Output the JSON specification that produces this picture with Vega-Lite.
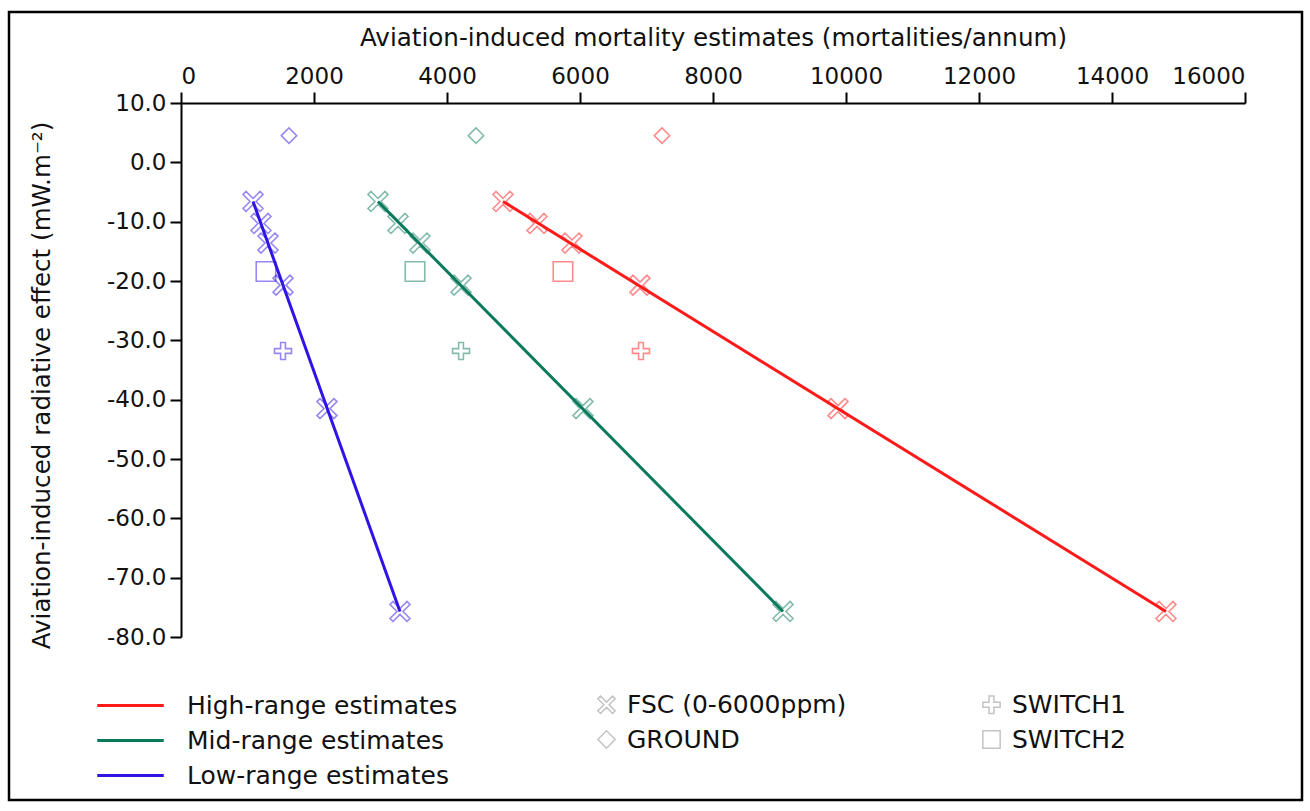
{
  "$schema": "https://vega.github.io/schema/vega-lite/v6.json",
  "autosize": {"type": "none"},
  "padding": {"left": 9, "top": 12, "right": 8, "bottom": 11},
  "width": 1293,
  "height": 788,
  "background": "white",
  "config": {
    "font": "DejaVu Sans",
    "view": {"stroke": "black", "strokeWidth": 2.5, "fill": "white"},
    "axis": {
      "grid": false, "domainColor": "black", "domainWidth": 2, "tickColor": "black", "tickWidth": 2, "tickSize": 11,
      "labelColor": "#111", "labelFontSize": 23, "titleFontSize": 24.6, "titleFontWeight": "normal", "titleColor": "#111"
    },
    "legend": {"labelFontSize": 25, "labelColor": "#111", "padding": 0, "labelLimit": 0}
  },
  "datasets": {
    "lines": [
      {"series": "High-range estimates", "mortality": 4842, "rf": -6.6},
      {"series": "High-range estimates", "mortality": 14812, "rf": -75.7},
      {"series": "Mid-range estimates", "mortality": 2962, "rf": -6.6},
      {"series": "Mid-range estimates", "mortality": 9053, "rf": -75.7},
      {"series": "Low-range estimates", "mortality": 1083, "rf": -6.6},
      {"series": "Low-range estimates", "mortality": 3293, "rf": -75.7}
    ],
    "pts": [
      {"series": "Low-range estimates", "scenario": "FSC (0-6000ppm)", "mortality": 1083, "rf": -6.6},
      {"series": "Low-range estimates", "scenario": "FSC (0-6000ppm)", "mortality": 1203, "rf": -10.3},
      {"series": "Low-range estimates", "scenario": "FSC (0-6000ppm)", "mortality": 1308, "rf": -13.6},
      {"series": "Low-range estimates", "scenario": "FSC (0-6000ppm)", "mortality": 1534, "rf": -20.7},
      {"series": "Low-range estimates", "scenario": "FSC (0-6000ppm)", "mortality": 2195, "rf": -41.5},
      {"series": "Low-range estimates", "scenario": "FSC (0-6000ppm)", "mortality": 3293, "rf": -75.7},
      {"series": "Mid-range estimates", "scenario": "FSC (0-6000ppm)", "mortality": 2962, "rf": -6.6},
      {"series": "Mid-range estimates", "scenario": "FSC (0-6000ppm)", "mortality": 3263, "rf": -10.3},
      {"series": "Mid-range estimates", "scenario": "FSC (0-6000ppm)", "mortality": 3594, "rf": -13.6},
      {"series": "Mid-range estimates", "scenario": "FSC (0-6000ppm)", "mortality": 4211, "rf": -20.7},
      {"series": "Mid-range estimates", "scenario": "FSC (0-6000ppm)", "mortality": 6045, "rf": -41.5},
      {"series": "Mid-range estimates", "scenario": "FSC (0-6000ppm)", "mortality": 9053, "rf": -75.7},
      {"series": "High-range estimates", "scenario": "FSC (0-6000ppm)", "mortality": 4842, "rf": -6.6},
      {"series": "High-range estimates", "scenario": "FSC (0-6000ppm)", "mortality": 5353, "rf": -10.3},
      {"series": "High-range estimates", "scenario": "FSC (0-6000ppm)", "mortality": 5880, "rf": -13.6},
      {"series": "High-range estimates", "scenario": "FSC (0-6000ppm)", "mortality": 6902, "rf": -20.7},
      {"series": "High-range estimates", "scenario": "FSC (0-6000ppm)", "mortality": 9880, "rf": -41.5},
      {"series": "High-range estimates", "scenario": "FSC (0-6000ppm)", "mortality": 14812, "rf": -75.7},
      {"series": "Low-range estimates", "scenario": "SWITCH2", "mortality": 1278, "rf": -18.4},
      {"series": "Mid-range estimates", "scenario": "SWITCH2", "mortality": 3519, "rf": -18.4},
      {"series": "High-range estimates", "scenario": "SWITCH2", "mortality": 5744, "rf": -18.4},
      {"series": "Low-range estimates", "scenario": "SWITCH1", "mortality": 1534, "rf": -31.8},
      {"series": "Mid-range estimates", "scenario": "SWITCH1", "mortality": 4211, "rf": -31.8},
      {"series": "High-range estimates", "scenario": "SWITCH1", "mortality": 6917, "rf": -31.8},
      {"series": "Low-range estimates", "scenario": "GROUND", "mortality": 1624, "rf": 4.5},
      {"series": "Mid-range estimates", "scenario": "GROUND", "mortality": 4436, "rf": 4.5},
      {"series": "High-range estimates", "scenario": "GROUND", "mortality": 7233, "rf": 4.5}
    ]
  },
  "encoding": {
    "x": {
      "field": "mortality", "type": "quantitative",
      "scale": {"domain": [0, 16000], "range": [172, 1236], "nice": false, "zero": false},
      "axis": {
        "orient": "top", "offset": -91, "values": [0, 2000, 4000, 6000, 8000, 10000, 12000, 14000, 16000],
        "format": "d", "labelPadding": 4,
        "title": "Aviation-induced mortality estimates (mortalities/annum)",
        "titleX": 704, "titleY": -65, "titleBaseline": "middle", "titleAnchor": "middle"
      }
    },
    "y": {
      "field": "rf", "type": "quantitative",
      "scale": {"domain": [-80, 10], "range": [625, 91], "nice": false, "zero": false},
      "axis": {
        "orient": "left", "offset": -172, "values": [-80, -70, -60, -50, -40, -30, -20, -10, 0, 10],
        "labelExpr": "replace(format(datum.value, '.1f'), '−', '-')", "labelPadding": 4,
        "title": "Aviation-induced radiative effect (mW.m⁻²)",
        "titleX": -139, "titleY": 373, "titleBaseline": "middle", "titleAngle": -90, "titleAnchor": "middle"
      }
    }
  },
  "layer": [
    {
      "data": {"name": "lines"},
      "mark": {"type": "line", "strokeWidth": 3},
      "encoding": {
        "color": {
          "field": "series", "type": "nominal",
          "scale": {"domain": ["High-range estimates", "Mid-range estimates", "Low-range estimates"], "range": ["#ff1a1a", "#0b7a5c", "#2f14e6"]},
          "legend": {
            "title": null, "orient": "none", "legendX": 109, "legendY": 681, "symbolType": "M-3.5,0H3.5",
            "symbolSize": 361, "symbolStrokeWidth": 3, "labelOffset": 44, "rowPadding": 9
          }
        }
      }
    },
    {
      "data": {"name": "pts"},
      "transform": [{"filter": {"field": "scenario", "equal": "FSC (0-6000ppm)"}}],
      "mark": {"type": "point", "filled": false, "strokeWidth": 1.6, "opacity": 0.5, "size": 400},
      "encoding": {
        "stroke": {
          "field": "series", "type": "nominal",
          "scale": {"domain": ["High-range estimates", "Mid-range estimates", "Low-range estimates"], "range": ["#ff1a1a", "#0b7a5c", "#2f14e6"]},
          "legend": null
        },
        "shape": {
          "field": "scenario", "type": "nominal",
          "scale": {
            "domain": ["FSC (0-6000ppm)", "SWITCH1", "GROUND", "SWITCH2"],
            "range": ["M0,-0.3L0.7,-1L1,-0.7L0.3,0L1,0.7L0.7,1L0,0.3L-0.7,1L-1,0.7L-0.3,0L-1,-0.7L-0.7,-1Z", "M-0.28,-1H0.28V-0.28H1V0.28H0.28V1H-0.28V0.28H-1V-0.28H-0.28Z", "diamond", "square"]
          },
          "legend": {
            "title": null, "orient": "none", "legendX": 585, "legendY": 680, "columns": 2, "columnPadding": 132, "direction": "horizontal",
            "values": ["FSC (0-6000ppm)", "SWITCH1", "GROUND", "SWITCH2"],
            "symbolSize": 300, "symbolStrokeColor": "#8a8a8a", "symbolStrokeWidth": 1.5, "symbolFillColor": "transparent", "labelOffset": 8, "rowPadding": 9
          }
        }
      }
    },
    {
      "data": {"name": "pts"},
      "transform": [{"filter": {"field": "scenario", "equal": "SWITCH1"}}],
      "mark": {"type": "point", "filled": false, "strokeWidth": 1.6, "opacity": 0.5, "size": 290},
      "encoding": {
        "stroke": {"field": "series", "type": "nominal", "legend": null},
        "shape": {"field": "scenario", "type": "nominal"}
      }
    },
    {
      "data": {"name": "pts"},
      "transform": [{"filter": {"field": "scenario", "equal": "GROUND"}}],
      "mark": {"type": "point", "filled": false, "strokeWidth": 1.5, "opacity": 0.5, "size": 240},
      "encoding": {
        "stroke": {"field": "series", "type": "nominal", "legend": null},
        "shape": {"field": "scenario", "type": "nominal"}
      }
    },
    {
      "data": {"name": "pts"},
      "transform": [{"filter": {"field": "scenario", "equal": "SWITCH2"}}],
      "mark": {"type": "point", "filled": false, "strokeWidth": 1.6, "opacity": 0.5, "size": 380},
      "encoding": {
        "stroke": {"field": "series", "type": "nominal", "legend": null},
        "shape": {"field": "scenario", "type": "nominal"}
      }
    }
  ]
}
